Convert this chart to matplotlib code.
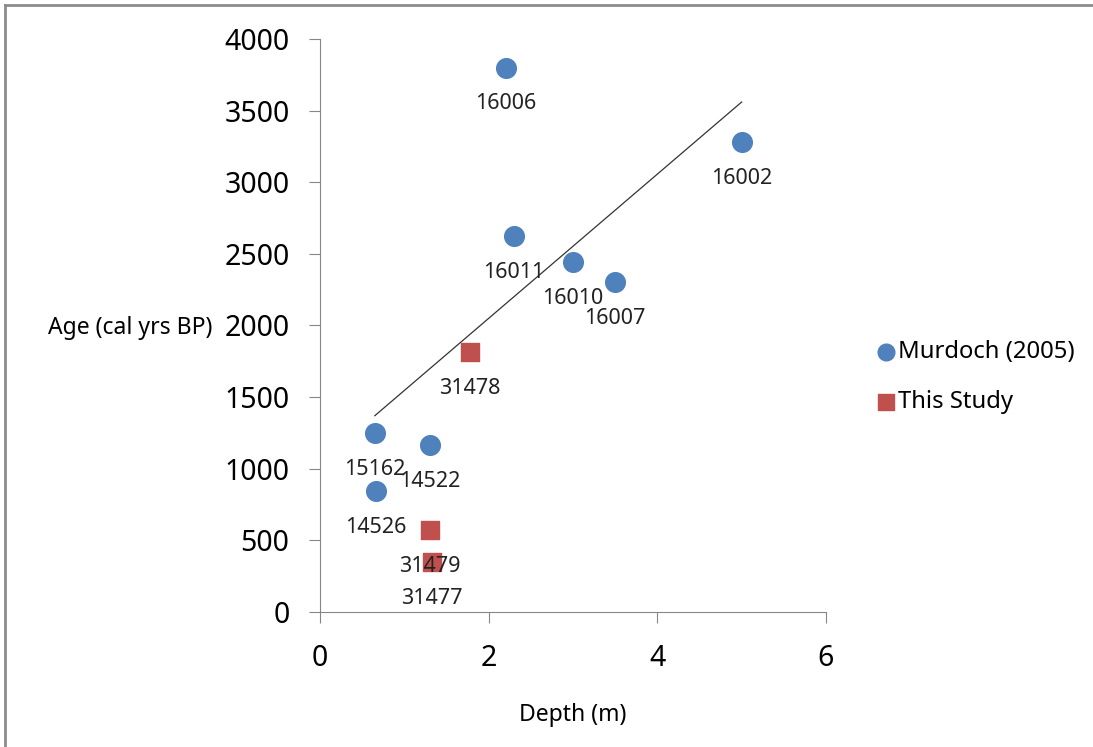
import numpy as np
import matplotlib
import matplotlib.pyplot as plt
from matplotlib.lines import Line2D
matplotlib.use('Agg')

plt.rcParams['font.family'] = ['Noto Sans', 'DejaVu Sans']

# Murdoch (2005) radiocarbon dates
murdoch_depth = [2.2, 5.0, 2.3, 3.0, 3.5, 0.65, 1.3, 0.66]
murdoch_age = [3800, 3280, 2625, 2443, 2304, 1250, 1166, 845]
murdoch_id = ['16006', '16002', '16011', '16010', '16007', '15162', '14522', '14526']

# this study
study_depth = [1.78, 1.3, 1.33]
study_age = [1815, 572, 349]
study_id = ['31478', '31479', '31477']

blue = '#4F81BD'
red = '#C0504D'
grey = '#868686'

fig = plt.figure(figsize=(10.93, 7.47), dpi=100)
ax = fig.add_axes([320/1093, 1-612/747, 506/1093, 573/747])

ax.scatter(murdoch_depth, murdoch_age, s=200, marker='o', color=blue,
           label='Murdoch (2005)', zorder=3)
ax.scatter(study_depth, study_age, s=180, marker='s', color=red,
           label='This Study', zorder=3)

# linear trendline through Murdoch points
k, b = np.polyfit(murdoch_depth, murdoch_age, 1)
xx = np.array([min(murdoch_depth), max(murdoch_depth)])
ax.plot(xx, k*xx + b, color='#333333', lw=0.9, zorder=2)

for x, y, t in zip(murdoch_depth + study_depth, murdoch_age + study_age, murdoch_id + study_id):
    ax.annotate(t, (x, y), xytext=(0, -26), textcoords='offset points',
                ha='center', va='center', fontsize=15.5, color='#222222', zorder=4)

ax.set_xlim(0, 6)
ax.set_ylim(0, 4000)
ax.set_xticks([0, 2, 4, 6])
ax.set_yticks(np.arange(0, 4001, 500))
for s in ['top', 'right']:
    ax.spines[s].set_visible(False)
for s in ['left', 'bottom']:
    ax.spines[s].set_color(grey)
ax.tick_params(direction='out', length=8, color=grey, labelsize=20.5)
ax.tick_params(axis='y', pad=14)
ax.tick_params(axis='x', pad=15)

ax.set_xlabel('Depth (m)', fontsize=16.5)
ax.xaxis.set_label_coords(0.5, -0.159)
ax.set_ylabel('Age (cal yrs BP)', fontsize=16.5, rotation=0, ha='right', va='center')
ax.yaxis.set_label_coords(-0.213, 0.496)

ax.legend(loc='center left', bbox_to_anchor=(863/1093, 1-377/747),
          bbox_transform=fig.transFigure, frameon=False, fontsize=17.2,
          handletextpad=0.05, labelspacing=1.1, borderpad=0, handlelength=0.9,
          markerscale=0.85)

# outer chart border (only top and left visible in the original crop)
fig.add_artist(Line2D([5/1093, 5/1093], [0, 1-5/747], color='#8c8c8c', lw=2))
fig.add_artist(Line2D([5/1093, 1], [1-5/747, 1-5/747], color='#8c8c8c', lw=2))

plt.savefig('out.png', dpi=100)
